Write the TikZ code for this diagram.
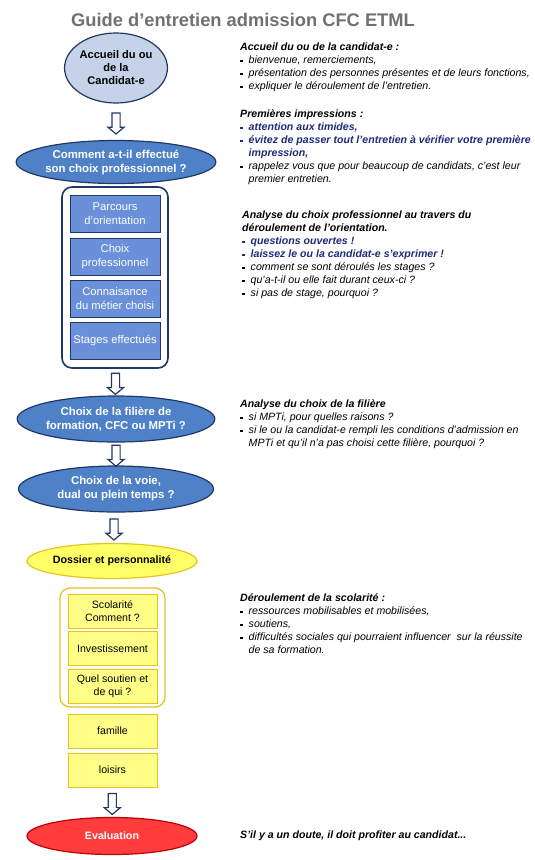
\documentclass[tikz,border=0pt]{standalone}
\usepackage{fontspec}
\setmainfont{Liberation Sans}
\usepackage{tikz}
\usetikzlibrary{shapes.geometric,shapes.arrows,positioning}
\definecolor{navy}{HTML}{1F3864}
\definecolor{paleblue}{HTML}{C5D2E8}
\definecolor{midblue}{HTML}{4F81C8}
\definecolor{boxblue}{HTML}{6990D8}
\definecolor{lemon}{HTML}{FFFF66}
\definecolor{paleyellow}{HTML}{FFFF88}
\definecolor{gold}{HTML}{E6C31E}
\definecolor{alertred}{HTML}{FF3D3D}
\definecolor{darkred}{HTML}{C00000}
\definecolor{titlegray}{HTML}{707070}
\definecolor{textblue}{HTML}{1F2A7A}
\newcommand\sq{\rule[1.6pt]{2.7pt}{2.7pt}}
\newcommand\itm[1]{\makebox[8.5pt][l]{\sq}#1}
\newcommand\cont[1]{\hspace*{8.5pt}#1}
\newcommand\blue[1]{{\color{textblue}\bfseries\itm{#1}}}

\begin{document}
\begin{tikzpicture}[x=1pt,y=-1pt,
    oval/.style={ellipse, draw=navy, line width=1.2pt, inner sep=0pt, align=center,
      font=\fontsize{10.7}{13.5}\selectfont\bfseries},
    blueoval/.style={oval, fill=midblue, text=white, minimum width=195pt, minimum height=46pt,
      font=\fontsize{11.4}{14}\selectfont\bfseries},
    stepbox/.style={rectangle, draw=navy, fill=boxblue, line width=1pt, minimum width=90pt,
      minimum height=37pt, text=white, align=center, font=\fontsize{11.2}{13.5}\selectfont},
    yelbox/.style={rectangle, draw=gold, fill=paleyellow, line width=1pt, minimum width=89pt,
      minimum height=34pt, align=center, font=\fontsize{10.6}{13}\selectfont},
    frame/.style={rectangle, rounded corners=10pt, fill=white, inner sep=0pt},
    downarrow/.style={single arrow, draw=navy, fill=white, line width=1.2pt, inner sep=3.5pt,
      minimum height=21pt, single arrow head extend=4pt, single arrow tip angle=100,
      shape border rotate=270},
    note/.style={anchor=north west, inner sep=0pt, align=left,
      font=\fontsize{10.6}{13}\selectfont\itshape}]
  \useasboundingbox (0,0) rectangle (535,860);
  % title
  \node[font=\fontsize{18.3}{20}\selectfont\bfseries, text=titlegray] (title) at (243,20)
    {Guide d’entretien admission CFC ETML};

  % left column: flow
  \node[oval, fill=paleblue, minimum width=92pt, minimum height=70pt,
    font=\fontsize{11.1}{13}\selectfont\bfseries] (accueil) at (116,68)
    {Accueil du ou\\de la\\Candidat-e};
  \node[blueoval, minimum height=43pt] (comment) at (116,162)
    {Comment a-t-il effectué\\son choix professionnel ?};
  \node[frame, draw=navy, line width=1.6pt, minimum width=106pt, minimum height=181pt] (bluebox) at (115,277.5) {};
  \node[stepbox] (parcours) at (115,213.5) {Parcours\\d’orientation};
  \node[stepbox] (choixpro) at (115,256.5) {Choix\\professionnel};
  \node[stepbox] (metier) at (115,298.5) {Connaisance\\du métier choisi};
  \node[stepbox] (stages) at (115,341) {Stages effectués};
  \node[blueoval] (filiere) at (116,419) {Choix de la filière de\\formation, CFC ou MPTi ?};
  \node[blueoval] (voie) at (116,489) {Choix de la voie,\\dual ou plein temps ?};
  \node[oval, draw=gold, fill=lemon, minimum width=170pt, minimum height=35pt] (dossier) at (112,561)
    {Dossier et personnalité};
  \node[frame, draw=gold, line width=1.3pt, minimum width=105pt, minimum height=119pt] (yelframe) at (112.5,647.5) {};
  \node[yelbox] (scolarite) at (112.5,611) {Scolarité\\Comment ?};
  \node[yelbox] (invest) at (112.5,648.5) {Investissement};
  \node[yelbox] (soutien) at (112.5,686.5) {Quel soutien et\\de qui ?};
  \node[yelbox] (famille) at (112.5,731) {famille};
  \node[yelbox] (loisirs) at (112.5,770) {loisirs};
  \node[oval, draw=darkred, fill=alertred, text=white, minimum width=170pt, minimum height=37pt] (eval) at (112,836)
    {Evaluation};

  % arrows
  \path (accueil.south) -- node[downarrow] {} (comment.north);
  \path (bluebox.south) -- node[downarrow] {} (filiere.north);
  \path (filiere.south) -- node[downarrow] {} (voie.north);
  \path (voie.south) -- node[downarrow] {} (dossier.north);
  \path (loisirs.south) -- node[downarrow] {} (eval.north);

  % right column: notes
  \node[note] (accnote) at (240,43) {\textbf{Accueil du ou de la candidat-e :}\\
    \itm{bienvenue, remerciements,}\\
    \itm{présentation des personnes présentes et de leurs fonctions,}\\
    \itm{expliquer le déroulement de l’entretien.}};
  \node[note] (impnote) at (240,110) {\textbf{Premières impressions :}\\
    \blue{attention aux timides,}\\
    \blue{évitez de passer tout l’entretien à vérifier votre première}\\
    {\color{textblue}\bfseries\cont{impression,}}\\
    \itm{rappelez vous que pour beaucoup de candidats, c’est leur}\\
    \cont{premier entretien.}};
  \node[note] (orinote) at (242,211) {\textbf{Analyse du choix professionnel au travers du}\\
    \textbf{déroulement de l’orientation.}\\
    \blue{questions ouvertes !}\\
    \blue{laissez le ou la candidat-e s’exprimer !}\\
    \itm{comment se sont déroulés les stages ?}\\
    \itm{qu’a-t-il ou elle fait durant ceux-ci ?}\\
    \itm{si pas de stage, pourquoi ?}};
  \node[note] (filnote) at (240,400) {\textbf{Analyse du choix de la filière}\\
    \itm{si MPTi, pour quelles raisons ?}\\
    \itm{si le ou la candidat-e rempli les conditions d’admission en}\\
    \cont{MPTi et qu’il n’a pas choisi cette filière, pourquoi ?}};
  \node[note] (scolnote) at (240,594) {\textbf{Déroulement de la scolarité :}\\
    \itm{ressources mobilisables et mobilisées,}\\
    \itm{soutiens,}\\
    \itm{difficultés sociales qui pourraient influencer\ \ sur la réussite}\\
    \cont{de sa formation.}};
  \node[note, anchor=west, font=\fontsize{10.6}{13}\selectfont\bfseries\itshape] (doute) at (240,836)
    {S’il y a un doute, il doit profiter au candidat...};
\end{tikzpicture}
\end{document}
